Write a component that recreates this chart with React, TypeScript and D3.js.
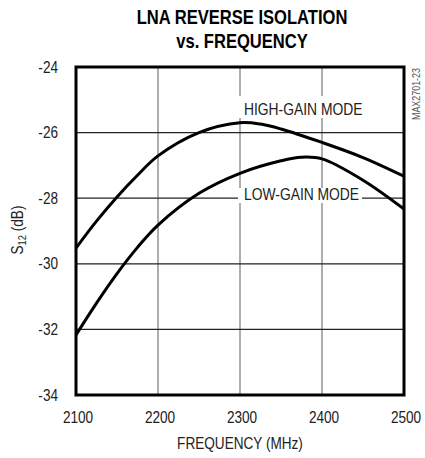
import React from "react";
import * as d3 from "d3";

const freqHigh = [2100, 2125, 2150, 2175, 2200, 2250, 2300, 2325, 2350, 2400, 2450, 2500];
const highGain = [-29.52, -28.7, -27.96, -27.3, -26.71, -26.0, -25.7, -25.74, -25.89, -26.3, -26.76, -27.33];
const freqLow = [2100, 2125, 2150, 2175, 2200, 2250, 2300, 2350, 2375, 2400, 2450, 2500];
const lowGain = [-32.17, -31.2, -30.3, -29.5, -28.82, -27.85, -27.24, -26.86, -26.75, -26.8, -27.45, -28.33];
const xTicks = [2100, 2200, 2300, 2400, 2500];
const yTicks = [-24, -26, -28, -30, -32, -34];

const FONT = "'Liberation Sans', Arial, sans-serif";

type TxtProps = {
  x: number;
  y: number;
  size: number;
  anchor?: "start" | "middle" | "end";
  bold?: boolean;
  fill?: string;
  sx?: number;
  rotate?: number;
  children: React.ReactNode;
};

function Txt({ x, y, size, anchor = "start", bold = false, fill = "#222", sx = 0.85, rotate = 0, children }: TxtProps) {
  return (
    <text
      transform={`translate(${x},${y}) rotate(${rotate}) scale(${sx},1)`}
      textAnchor={anchor}
      fontFamily={FONT}
      fontWeight={bold ? "bold" : "normal"}
      fontSize={size}
      fill={fill}
    >
      {children}
    </text>
  );
}

export default function App() {
  const W = 425, H = 458;
  const L = 76, R = 404, T = 67, B = 395;
  const x = d3.scaleLinear().domain([2100, 2500]).range([L, R]);
  const y = d3.scaleLinear().domain([-34, -24]).range([B, T]);
  const line = d3
    .line<[number, number]>()
    .x((d) => x(d[0]))
    .y((d) => y(d[1]))
    .curve(d3.curveCatmullRom.alpha(0.5));
  const hi = line(freqHigh.map((f, i) => [f, highGain[i]]) as [number, number][]) || "";
  const lo = line(freqLow.map((f, i) => [f, lowGain[i]]) as [number, number][]) || "";

  return (
    <svg width={W} height={H} style={{ position: "absolute", left: 0, top: 0, background: "#fff" }}>
      <rect x={0} y={0} width={W} height={H} fill="#fff" />
      <Txt x={242} y={24} size={19.5} anchor="middle" bold fill="#000">LNA REVERSE ISOLATION</Txt>
      <Txt x={242} y={48} size={19.5} anchor="middle" bold fill="#000">vs. FREQUENCY</Txt>
      {/* grid */}
      {xTicks.slice(1, -1).map((t) => (
        <line key={"gx" + t} x1={x(t)} x2={x(t)} y1={T} y2={B} stroke="#777" strokeWidth={1.2} />
      ))}
      {yTicks.slice(1, -1).map((t) => (
        <line key={"gy" + t} x1={L} x2={R} y1={y(t)} y2={y(t)} stroke="#222" strokeWidth={1.2} />
      ))}
      {/* label backgrounds */}
      <rect x={237} y={96} width={128} height={22} fill="#fff" />
      <rect x={238} y={188} width={124} height={15} fill="#fff" />
      <Txt x={244} y={114.5} size={16.3}>HIGH-GAIN MODE</Txt>
      <Txt x={244} y={199.5} size={16.3}>LOW-GAIN MODE</Txt>
      {/* curves */}
      <path d={hi} fill="none" stroke="#000" strokeWidth={3} />
      <path d={lo} fill="none" stroke="#000" strokeWidth={3} />
      {/* frame */}
      <rect x={L} y={T} width={R - L} height={B - T} fill="none" stroke="#000" strokeWidth={3} />
      {/* y ticks */}
      {yTicks.map((t) => (
        <Txt key={"yt" + t} x={58} y={y(t) + 5.5} size={16} anchor="end">
          {"-" + Math.abs(t)}
        </Txt>
      ))}
      {xTicks.map((t) => (
        <Txt key={"xt" + t} x={x(t) + 2} y={423} size={16} anchor="middle">
          {String(t)}
        </Txt>
      ))}
      <Txt x={240} y={449} size={16} anchor="middle">FREQUENCY (MHz)</Txt>
      <text
        transform="translate(23,230) rotate(-90) scale(0.85,1)"
        textAnchor="middle"
        fontFamily={FONT}
        fontSize={16}
        fill="#222"
      >
        S<tspan fontSize={11} dy={3}>12</tspan>
        <tspan dy={-3}> (dB)</tspan>
      </text>
      <Txt x={420} y={68} size={10.5} anchor="end" rotate={-90} fill="#555">MAX2701-23</Txt>
    </svg>
  );
}
